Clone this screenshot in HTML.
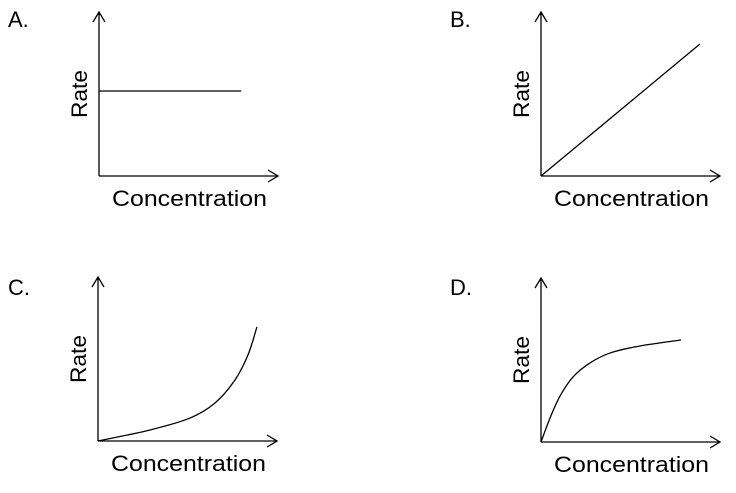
<!DOCTYPE html>
<html><head><meta charset="utf-8"><style>
html,body{margin:0;padding:0;background:#fff;}
svg{display:block;font-family:"Liberation Sans",Arial,sans-serif;}
</style></head><body>
<svg id="c" width="736" height="493" viewBox="0 0 736 493"></svg>
<script>
const panelLabels = ["A.", "B.", "C.", "D."];
const seriesAx = [0, 0.79];
const seriesAy = [0.515, 0.515];
const seriesBx = [0, 0.883];
const seriesBy = [0, 0.8];
const seriesCx = [0, 0.289, 0.511, 0.65, 0.761, 0.833, 0.883];
const seriesCy = [0, 0.067, 0.139, 0.23, 0.37, 0.521, 0.691];
const seriesDx = [0, 0.05, 0.106, 0.178, 0.272, 0.383, 0.55, 0.778];
const seriesDy = [0, 0.145, 0.279, 0.394, 0.479, 0.539, 0.582, 0.618];
const xTitle = "Concentration";
const yTitle = "Rate";

const NS = "http://www.w3.org/2000/svg";
const svg = document.getElementById("c");
function mk(tag, attrs, parent){const e=document.createElementNS(NS,tag);for(const k in attrs)e.setAttribute(k,attrs[k]);(parent||svg).appendChild(e);return e;}

const panels = [
  {ox:99, oy:176, lx:8, ly:27, xs:seriesAx, ys:seriesAy},
  {ox:541, oy:176, lx:450, ly:27, xs:seriesBx, ys:seriesBy},
  {ox:98, oy:441, lx:8, ly:295, xs:seriesCx, ys:seriesCy},
  {ox:541, oy:442, lx:450, ly:295, xs:seriesDx, ys:seriesDy}
];
const W = 180, H = 165;

panels.forEach((p, i) => {
  const g = mk("g", {});
  
  
  const X = v => p.ox + v * W;
  const Y = v => p.oy - v * H;
  const lab = mk("text", {x:p.lx, y:p.ly, "font-size":22, fill:"#000"}, g);
  lab.textContent = panelLabels[i];
  
  
  const ya = mk("path", {d:`M${p.ox},${p.oy} V${p.oy-164} M${p.ox-6},${p.oy-154} L${p.ox},${p.oy-164} L${p.ox+6},${p.oy-154}`, stroke:"#000", "stroke-width":1.3, fill:"none"}, g);
  
  
  const xa = mk("path", {d:`M${p.ox},${p.oy} H${p.ox+179} M${p.ox+169},${p.oy-6} L${p.ox+179},${p.oy} L${p.ox+169},${p.oy+6}`, stroke:"#000", "stroke-width":1.3, fill:"none"}, g);
  
  
  const xt = mk("text", {x:p.ox+13, y:p.oy+30, "font-size":22, textLength:155, lengthAdjust:"spacingAndGlyphs", fill:"#000"}, g);
  xt.textContent = xTitle;
  
  
  const yt = mk("text", {x:0, y:0, "font-size":22, textLength:48, lengthAdjust:"spacingAndGlyphs", fill:"#000", transform:`translate(${p.ox-12},${p.oy-58}) rotate(-90)`}, g);
  yt.textContent = yTitle;
  
  
  const pts = p.xs.map((x, k) => [X(x), Y(p.ys[k])]);
  let d = `M${pts[0][0]},${pts[0][1]}`;
  for (let k = 0; k < pts.length - 1; k++) {
    const p0 = pts[Math.max(0,k-1)], p1 = pts[k], p2 = pts[k+1], p3 = pts[Math.min(pts.length-1,k+2)];
    const c1 = [p1[0]+(p2[0]-p0[0])/6, p1[1]+(p2[1]-p0[1])/6];
    const c2 = [p2[0]-(p3[0]-p1[0])/6, p2[1]-(p3[1]-p1[1])/6];
    d += ` C${c1[0]},${c1[1]} ${c2[0]},${c2[1]} ${p2[0]},${p2[1]}`;
  }
  const line = mk("path", {d, stroke:"#000", "stroke-width":1.3, fill:"none"}, g);
  
  
});
</script>
</body></html>
